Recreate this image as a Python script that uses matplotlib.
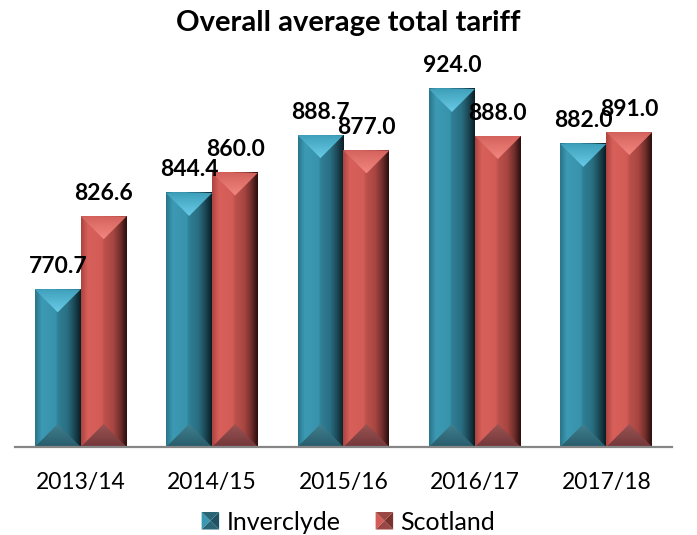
import matplotlib.pyplot as plt
import numpy as np
from matplotlib.colors import LinearSegmentedColormap
from matplotlib.patches import Polygon, Patch
from matplotlib.legend_handler import HandlerBase

plt.rcParams['font.family'] = ['Lato', 'DejaVu Sans']

years = ["2013/14", "2014/15", "2015/16", "2016/17", "2017/18"]
inverclyde = [770.7, 844.4, 888.7, 924.0, 882.0]
scotland = [826.6, 860.0, 877.0, 888.0, 891.0]

# bevel shading: side gradient stops, top facet, bottom facet
teal = {
    "side": [(0.00, "#2A7489"), (0.08, "#3388A0"), (0.15, "#3D9AB4"), (0.45, "#3893AC"),
             (0.50, "#2F7F96"), (0.70, "#2A6F83"), (0.85, "#1C4A58"), (1.00, "#0A1D24")],
    "top": ["#3FA0BB", "#6ACBE8"],
    "bottom": ["#275B6A", "#41808F"],
    "legend": ["#3B98B2", "#1F5262", "#2A6576", "#2A6576"],
}
red = {
    "side": [(0.00, "#A8443F"), (0.08, "#C4524D"), (0.15, "#D7605B"), (0.45, "#D35C57"),
             (0.50, "#BE514C"), (0.70, "#A84642"), (0.85, "#74302D"), (1.00, "#2A0E0D")],
    "top": ["#D4625D", "#F2877F"],
    "bottom": ["#73363A", "#9A5452"],
    "legend": ["#D35C57", "#7A322F", "#9A4744", "#9A4744"],
}


def gradient_fill(ax, extent, colors, vertical, clip, z):
    cmap = LinearSegmentedColormap.from_list("g", colors)
    grad = np.linspace(0, 1, 256)
    arr = grad.reshape(-1, 1) if vertical else grad.reshape(1, -1)
    im = ax.imshow(arr, cmap=cmap, extent=extent, aspect="auto",
                   interpolation="bilinear", origin="lower", zorder=z)
    if clip is not None:
        im.set_clip_path(clip)
    return im


def shade_bar(ax, rect, style):
    x, w = rect.get_x(), rect.get_width()
    top = rect.get_y() + rect.get_height()
    base = max(rect.get_y(), ax.get_ylim()[0])
    # facet depth: 45 degree bevel, half the bar width in pixels
    px_x = ax.transData.transform((1, 0))[0] - ax.transData.transform((0, 0))[0]
    px_y = ax.transData.transform((0, 1))[1] - ax.transData.transform((0, 0))[1]
    d = (w / 2) * px_x / px_y

    gradient_fill(ax, (x, x + w, base, top), style["side"], False, None, 2)

    tri_top = Polygon([(x, top), (x + w, top), (x + w / 2, top - d)],
                      closed=True, fill=False, lw=0, transform=ax.transData)
    ax.add_patch(tri_top)
    gradient_fill(ax, (x, x + w, top - d, top), style["top"][::-1], True, tri_top, 3)

    tri_bot = Polygon([(x, base), (x + w, base), (x + w / 2, base + d)],
                      closed=True, fill=False, lw=0, transform=ax.transData)
    ax.add_patch(tri_bot)
    gradient_fill(ax, (x, x + w, base, base + d), style["bottom"], True, tri_bot, 3)


class BevelHandler(HandlerBase):
    def __init__(self, colors):
        super().__init__()
        self.colors = colors

    def create_artists(self, legend, orig_handle, xdescent, ydescent,
                       width, height, fontsize, trans):
        s = height * 1.0
        x0 = -xdescent + (width - s) / 2
        y0 = -ydescent + (height - s) / 2
        c = (x0 + s / 2, y0 + s / 2)
        left, right, topc, botc = self.colors
        pts = [
            ([(x0, y0), (x0, y0 + s), c], left),
            ([(x0 + s, y0), (x0 + s, y0 + s), c], right),
            ([(x0, y0 + s), (x0 + s, y0 + s), c], topc),
            ([(x0, y0), (x0 + s, y0), c], botc),
        ]
        arts = []
        for verts, col in pts:
            p = Polygon(verts, closed=True, facecolor=col, edgecolor="none",
                        transform=trans)
            arts.append(p)
        return arts


fig = plt.figure(figsize=(6.97, 5.35), dpi=100)
ax = fig.add_axes([15 / 697, 88 / 535, 657 / 697, 392 / 535])
ax.set_xlim(-0.5, 4.5)
ax.set_ylim(650, 950)

xs = np.arange(len(years))
width = 0.35
bars_inv = ax.bar(xs - width / 2, inverclyde, width, facecolor="none", edgecolor="none")
bars_sco = ax.bar(xs + width / 2, scotland, width, facecolor="none", edgecolor="none")

for bars, vals, style in [(bars_inv, inverclyde, teal), (bars_sco, scotland, red)]:
    for rect, v in zip(bars, vals):
        shade_bar(ax, rect, style)
        ax.annotate(f"{v:.1f}", (rect.get_x() + rect.get_width() / 2, v),
                    xytext=(0, 9), textcoords="offset points", ha="center",
                    va="bottom", fontsize=16.5, fontweight="bold", color="black",
                    zorder=5)

ax.set_xlim(-0.5, 4.5)
ax.set_ylim(650, 950)
ax.set_xticks(xs)
ax.set_xticklabels(years, fontsize=16.5)
ax.tick_params(axis="x", length=0, pad=18)
ax.set_yticks([])
for side in ["top", "left", "right"]:
    ax.spines[side].set_visible(False)
ax.spines["bottom"].set_color("#868686")
ax.spines["bottom"].set_linewidth(1.6)
ax.spines["bottom"].set_zorder(4)

fig.text(0.5, 1 - 23 / 535, "Overall average total tariff", ha="center",
         va="center", fontsize=21, fontweight="bold")

h_inv = Patch(facecolor="#3B98B2")
h_sco = Patch(facecolor="#D35C57")
fig.legend([h_inv, h_sco], ["Inverclyde", "Scotland"], loc="center",
           bbox_to_anchor=(0.5, 1 - 522 / 535), ncol=2, frameon=False,
           fontsize=18, handlelength=0.7, handleheight=0.7,
           handletextpad=0.3, columnspacing=1.4,
           handler_map={h_inv: BevelHandler(teal["legend"]),
                        h_sco: BevelHandler(red["legend"])})

fig.savefig("out.png", dpi=100)
